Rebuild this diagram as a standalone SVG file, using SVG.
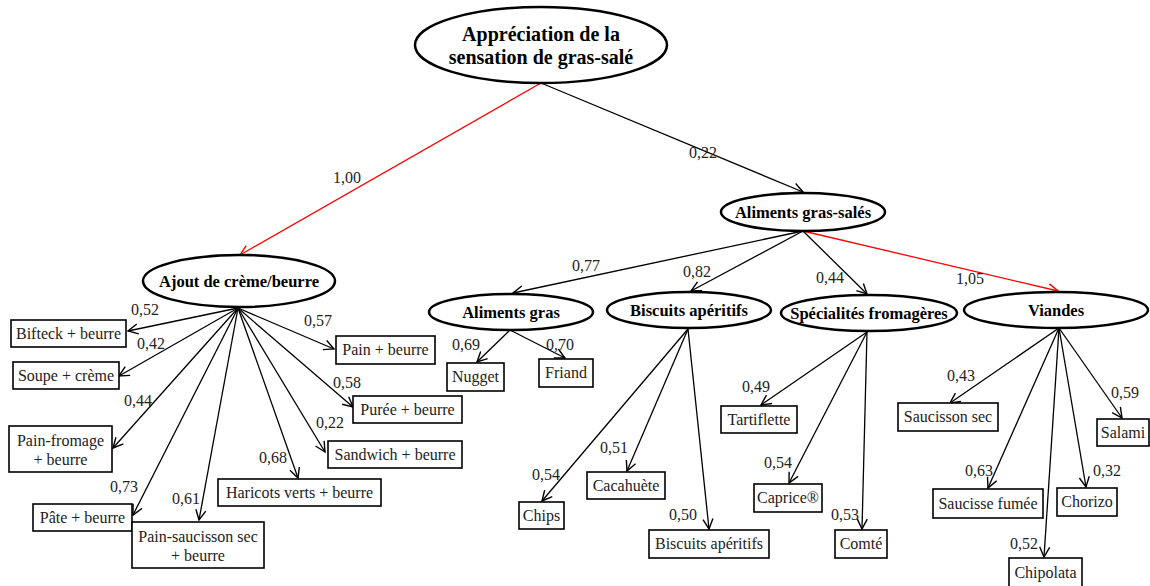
<svg xmlns="http://www.w3.org/2000/svg" width="1150" height="586" viewBox="0 0 1150 586">
<defs>
<style>
.bg{fill:#fff}
.ell{fill:#fff;stroke:#000;stroke-width:2.5}
.box{fill:#fff;stroke:#000;stroke-width:1.6}
.t{font-family:"Liberation Serif",serif;font-size:16px;fill:#222;text-anchor:middle}
.tb{font-family:"Liberation Serif",serif;font-weight:bold;font-size:16.5px;fill:#000;text-anchor:middle}
.tr{font-family:"Liberation Serif",serif;font-weight:bold;font-size:20px;fill:#000;text-anchor:middle}
.v{font-family:"Liberation Serif",serif;font-size:16px;fill:#222;text-anchor:middle}
.c{fill:none;stroke:#000;stroke-width:1.3;marker-end:url(#ah)}
.r{fill:none;stroke:#f00;stroke-width:1.3;marker-end:url(#ahr)}
</style>
<marker id="ah" viewBox="0 0 12 12" refX="11" refY="6" markerWidth="12" markerHeight="12" markerUnits="userSpaceOnUse" orient="auto"><path d="M1,1 L11,6 L1,11" fill="none" stroke="#000" stroke-width="1.4"/></marker>
<marker id="ahr" viewBox="0 0 12 12" refX="11" refY="6" markerWidth="12" markerHeight="12" markerUnits="userSpaceOnUse" orient="auto"><path d="M1,1 L11,6 L1,11" fill="none" stroke="#f00" stroke-width="1.4"/></marker>
</defs>
<rect class="bg" x="0" y="0" width="1150" height="586"/>
<g id="connectors">
<line class="r" x1="541" y1="83" x2="240" y2="255"/>
<line class="c" x1="541" y1="83" x2="803" y2="192"/>
<line class="c" x1="238" y1="308" x2="128" y2="331"/>
<line class="c" x1="238" y1="308" x2="119" y2="376"/>
<line class="c" x1="238" y1="308" x2="113" y2="448"/>
<line class="c" x1="238" y1="308" x2="133" y2="515"/>
<line class="c" x1="238" y1="308" x2="199" y2="520"/>
<line class="c" x1="238" y1="308" x2="298" y2="478"/>
<line class="c" x1="238" y1="308" x2="325" y2="452"/>
<line class="c" x1="238" y1="308" x2="353" y2="407"/>
<line class="c" x1="238" y1="308" x2="334" y2="349"/>
<line class="c" x1="803" y1="231" x2="513" y2="293"/>
<line class="c" x1="803" y1="231" x2="691" y2="291"/>
<line class="c" x1="803" y1="231" x2="867" y2="294"/>
<line class="r" x1="803" y1="231" x2="1058" y2="291"/>
<line class="c" x1="510" y1="330" x2="477" y2="362"/>
<line class="c" x1="510" y1="330" x2="565" y2="358"/>
<line class="c" x1="688" y1="329" x2="542" y2="501"/>
<line class="c" x1="688" y1="329" x2="627" y2="471"/>
<line class="c" x1="688" y1="329" x2="709" y2="529"/>
<line class="c" x1="867" y1="332" x2="761" y2="405"/>
<line class="c" x1="867" y1="332" x2="789" y2="483"/>
<line class="c" x1="867" y1="332" x2="862" y2="529"/>
<line class="c" x1="1059" y1="328" x2="950" y2="403"/>
<line class="c" x1="1059" y1="328" x2="988" y2="488"/>
<line class="c" x1="1059" y1="328" x2="1044" y2="557"/>
<line class="c" x1="1059" y1="328" x2="1086" y2="487"/>
<line class="c" x1="1059" y1="328" x2="1122" y2="418"/>
<text class="v" x="347" y="183">1,00</text>
<text class="v" x="703" y="158">0,22</text>
<text class="v" x="145" y="315">0,52</text>
<text class="v" x="151" y="349">0,42</text>
<text class="v" x="138" y="406">0,44</text>
<text class="v" x="124" y="492">0,73</text>
<text class="v" x="186" y="504">0,61</text>
<text class="v" x="273" y="463">0,68</text>
<text class="v" x="330" y="428">0,22</text>
<text class="v" x="347" y="388">0,58</text>
<text class="v" x="318" y="326">0,57</text>
<text class="v" x="586" y="271">0,77</text>
<text class="v" x="697" y="277">0,82</text>
<text class="v" x="830" y="283">0,44</text>
<text class="v" x="970" y="284">1,05</text>
<text class="v" x="466" y="350">0,69</text>
<text class="v" x="560" y="350">0,70</text>
<text class="v" x="546" y="480">0,54</text>
<text class="v" x="614" y="453">0,51</text>
<text class="v" x="683" y="520">0,50</text>
<text class="v" x="756" y="392">0,49</text>
<text class="v" x="778" y="468">0,54</text>
<text class="v" x="845" y="520">0,53</text>
<text class="v" x="961" y="381">0,43</text>
<text class="v" x="979" y="476">0,63</text>
<text class="v" x="1024" y="549">0,52</text>
<text class="v" x="1107" y="476">0,32</text>
<text class="v" x="1125" y="398">0,59</text>
</g>
<g id="root"><ellipse class="ell" cx="541" cy="45" rx="126" ry="38"/><text class="tr" x="541" y="41">Appréciation de la</text><text class="tr" x="541" y="64">sensation de gras-salé</text></g>
<g id="gras-sales"><ellipse class="ell" cx="803" cy="212" rx="82" ry="19"/><text class="tb" x="803" y="218">Aliments gras-salés</text></g>
<g id="ajout"><ellipse class="ell" cx="239" cy="281" rx="96" ry="26"/><text class="tb" x="239" y="287">Ajout de crème/beurre</text></g>
<g id="aliments-gras"><ellipse class="ell" cx="511" cy="312" rx="82" ry="18"/><text class="tb" x="511" y="318">Aliments gras</text></g>
<g id="biscuits"><ellipse class="ell" cx="689" cy="310" rx="82" ry="18"/><text class="tb" x="689" y="316">Biscuits apéritifs</text></g>
<g id="fromageres"><ellipse class="ell" cx="869" cy="313" rx="88" ry="18"/><text class="tb" x="869" y="319">Spécialités fromagères</text></g>
<g id="viandes"><ellipse class="ell" cx="1056" cy="310" rx="92" ry="18"/><text class="tb" x="1056" y="316">Viandes</text></g>
<g id="bifteck"><rect class="box" x="11" y="320" width="115" height="27"/><text class="t" x="68.5" y="339">Bifteck + beurre</text></g>
<g id="soupe"><rect class="box" x="13" y="362" width="106" height="27"/><text class="t" x="66" y="381">Soupe + crème</text></g>
<g id="pain-fromage"><rect class="box" x="9" y="426" width="103" height="46"/><text class="t" x="60.5" y="446">Pain-fromage</text><text class="t" x="60.5" y="465">+ beurre</text></g>
<g id="pate"><rect class="box" x="33" y="504" width="99" height="27"/><text class="t" x="82.5" y="523">Pâte + beurre</text></g>
<g id="pain-saucisson"><rect class="box" x="132" y="522" width="132" height="46"/><text class="t" x="198" y="542">Pain-saucisson sec</text><text class="t" x="198" y="561">+ beurre</text></g>
<g id="haricots"><rect class="box" x="218" y="479" width="163" height="27"/><text class="t" x="299.5" y="498">Haricots verts + beurre</text></g>
<g id="sandwich"><rect class="box" x="328" y="441" width="134" height="27"/><text class="t" x="395" y="460">Sandwich + beurre</text></g>
<g id="puree"><rect class="box" x="353" y="396" width="109" height="27"/><text class="t" x="407.5" y="415">Purée + beurre</text></g>
<g id="pain-beurre"><rect class="box" x="336" y="336" width="99" height="28"/><text class="t" x="385.5" y="355">Pain + beurre</text></g>
<g id="nugget"><rect class="box" x="447" y="363" width="57" height="28"/><text class="t" x="475.5" y="382">Nugget</text></g>
<g id="friand"><rect class="box" x="539" y="359" width="54" height="28"/><text class="t" x="566" y="378">Friand</text></g>
<g id="chips"><rect class="box" x="519" y="502" width="45" height="27"/><text class="t" x="541.5" y="521">Chips</text></g>
<g id="cacahuete"><rect class="box" x="587" y="472" width="78" height="27"/><text class="t" x="626" y="491">Cacahuète</text></g>
<g id="biscuits-leaf"><rect class="box" x="649" y="530" width="120" height="28"/><text class="t" x="709" y="549">Biscuits apéritifs</text></g>
<g id="tartiflette"><rect class="box" x="721" y="406" width="76" height="27"/><text class="t" x="759" y="425">Tartiflette</text></g>
<g id="caprice"><rect class="box" x="754" y="484" width="68" height="28"/><text class="t" x="788" y="503">Caprice®</text></g>
<g id="comte"><rect class="box" x="835" y="530" width="52" height="28"/><text class="t" x="861" y="549">Comté</text></g>
<g id="saucisson-sec"><rect class="box" x="898" y="403" width="100" height="28"/><text class="t" x="948" y="422">Saucisson sec</text></g>
<g id="saucisse-fumee"><rect class="box" x="933" y="489" width="110" height="29"/><text class="t" x="988" y="509">Saucisse fumée</text></g>
<g id="chipolata"><rect class="box" x="1009" y="558" width="73" height="30"/><text class="t" x="1045.5" y="578">Chipolata</text></g>
<g id="chorizo"><rect class="box" x="1057" y="488" width="60" height="28"/><text class="t" x="1087" y="507">Chorizo</text></g>
<g id="salami"><rect class="box" x="1097" y="419" width="52" height="27"/><text class="t" x="1123" y="438">Salami</text></g>
</svg>
